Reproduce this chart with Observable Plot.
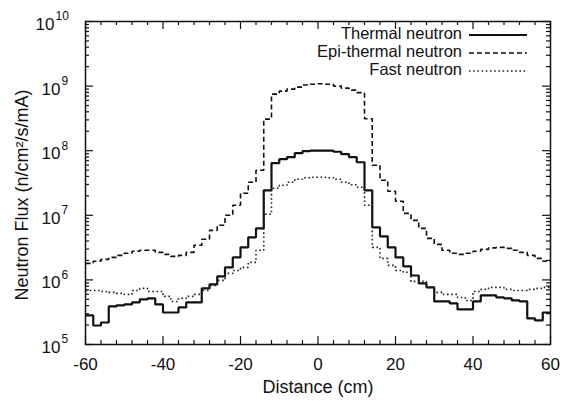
<!DOCTYPE html>
<html><head><meta charset="utf-8">
<script src="https://cdn.jsdelivr.net/npm/d3@7"></script>
<script src="https://cdn.jsdelivr.net/npm/@observablehq/plot@0.6"></script>
<style>
body{margin:0;background:#fff;}
#wrap{position:relative;width:562px;height:405px;font-family:"Liberation Sans",Arial,sans-serif;}
#legend{position:absolute;left:0;top:0;pointer-events:none;}
</style></head><body><div id="wrap"></div>
<script>
// Bin left edges (cm), 2 cm bins
const binStart = [-60,-58,-56,-54,-52,-50,-48,-46,-44,-42,-40,-38,-36,-34,-32,-30,-28,-26,-24,-22,-20,-18,-16,-14,-12,-10,-8,-6,-4,-2,0,2,4,6,8,10,12,14,16,18,20,22,24,26,28,30,32,34,36,38,40,42,44,46,48,50,52,54,56,58];
const binEnd = 60;
const thermal = [2.82e5,1.97e5,2.19e5,3.88e5,4.03e5,4.17e5,4.48e5,4.99e5,5.17e5,4.17e5,
3.13e5,3.13e5,3.75e5,4.48e5,4.48e5,7.38e5,8.51e5,1.13e6,1.56e6,2.23e6,
3.19e6,4.56e6,6.28e6,2.44e7,6.40e7,7.38e7,7.93e7,9.14e7,9.82e7,1.0e8,
1.0e8,1.0e8,9.64e7,8.83e7,7.93e7,6.63e7,2.44e7,6.52e6,4.72e6,3.19e6,
2.23e6,1.62e6,1.17e6,8.83e5,7.65e5,4.64e5,4.64e5,4.32e5,3.49e5,3.49e5,
4.64e5,5.75e5,5.75e5,5.35e5,5.17e5,4.81e5,4.64e5,2.53e5,2.36e5,3.13e5];
const epithermal = [1.80e6,1.94e6,2.08e6,2.23e6,2.40e6,2.58e6,2.77e6,2.87e6,2.87e6,2.67e6,
2.48e6,2.31e6,2.40e6,2.67e6,3.43e6,4.25e6,5.85e6,7.00e6,1.0e7,1.43e7,
2.19e7,3.25e7,4.99e7,3.08e8,7.52e8,8.36e8,8.98e8,9.64e8,1.04e9,1.07e9,
1.09e9,1.07e9,1.0e9,9.31e8,8.67e8,7.93e8,3.13e8,5.96e7,3.49e7,2.36e7,
1.65e7,1.07e7,8.36e6,6.28e6,4.40e6,3.55e6,2.87e6,2.58e6,2.48e6,2.58e6,
2.77e6,2.97e6,3.13e6,3.19e6,3.08e6,2.87e6,2.67e6,2.40e6,2.15e6,1.94e6];
const fast = [6.87e5,6.87e5,6.63e5,6.40e5,6.18e5,5.96e5,6.87e5,7.38e5,6.63e5,6.63e5,
5.55e5,4.64e5,5.17e5,5.55e5,5.96e5,6.87e5,8.22e5,9.82e5,1.26e6,1.40e6,
1.56e6,1.87e6,2.87e6,1.04e7,2.62e7,2.92e7,3.25e7,3.61e7,3.81e7,3.88e7,
3.88e7,3.81e7,3.61e7,3.25e7,2.97e7,2.72e7,1.43e7,3.19e6,2.15e6,1.68e6,
1.40e6,1.31e6,9.48e5,9.48e5,7.65e5,6.40e5,5.96e5,5.96e5,5.35e5,4.81e5,
6.63e5,7.13e5,7.65e5,7.65e5,7.13e5,6.87e5,6.87e5,7.13e5,7.38e5,7.65e5];
const seriesNames = ["Thermal neutron","Epi-thermal neutron","Fast neutron"];

const xTickLabels = [-60,-40,-20,0,20,40,60];
const xMinorTicks = [-56,-52,-48,-44,-36,-32,-28,-24,-16,-12,-8,-4,4,8,12,16,24,28,32,36,44,48,52,56];
const yDecades = [1e5,1e6,1e7,1e8,1e9,1e10];
const yExponents = ["5","6","7","8","9","10"];
const yMinorTicks = [2e5,3e5,4e5,5e5,6e5,7e5,8e5,9e5,2e6,3e6,4e6,5e6,6e6,7e6,8e6,9e6,
2e7,3e7,4e7,5e7,6e7,7e7,8e7,9e7,2e8,3e8,4e8,5e8,6e8,7e8,8e8,9e8,2e9,3e9,4e9,5e9,6e9,7e9,8e9,9e9];
const xTitle = "Distance (cm)";
const yTitle = "Neutron Flux (n/cm\u00B2/s/mA)";

const styles = [
  {stroke:"#111", strokeWidth:2.2, dash:null},
  {stroke:"#111", strokeWidth:1.6, dash:"5,3"},
  {stroke:"#222", strokeWidth:1.6, dash:"1.6,2.6"}
];

function stepRows(vals, name){
  const rows = binStart.map((x,i)=>({x, y: vals[i], series: name}));
  rows.push({x: binEnd, y: vals[vals.length-1], series: name});
  return rows;
}
const allSeries = [thermal, epithermal, fast];

const W=562, H=405, mL=85, mR=12, mT=21, mB=61;
const innerW = W-mL-mR, innerH = H-mT-mB;
const font = "Liberation Sans, Arial, sans-serif";
const majorLen = 8, minorLen = 4;

const marks = [];
allSeries.forEach((vals,i)=>{
  marks.push(Plot.line(stepRows(vals, seriesNames[i]), {x:"x", y:"y", curve:"step-after",
    stroke: styles[i].stroke, strokeWidth: styles[i].strokeWidth, strokeDasharray: styles[i].dash,
    strokeLinejoin:"miter", strokeLinecap:"butt"}));
});
// ticks (inside, mirrored)
marks.push(Plot.tickX(xTickLabels, {x:d=>d, insetTop: innerH-majorLen, stroke:"#111", strokeWidth:1.2}));
marks.push(Plot.tickX(xTickLabels, {x:d=>d, insetBottom: innerH-majorLen, stroke:"#111", strokeWidth:1.2}));
marks.push(Plot.tickX(xMinorTicks, {x:d=>d, insetTop: innerH-minorLen, stroke:"#111", strokeWidth:1.2}));
marks.push(Plot.tickX(xMinorTicks, {x:d=>d, insetBottom: innerH-minorLen, stroke:"#111", strokeWidth:1.2}));
marks.push(Plot.tickY(yDecades, {y:d=>d, insetRight: innerW-majorLen, stroke:"#111", strokeWidth:1.2}));
marks.push(Plot.tickY(yDecades, {y:d=>d, insetLeft: innerW-majorLen, stroke:"#111", strokeWidth:1.2}));
marks.push(Plot.tickY(yMinorTicks, {y:d=>d, insetRight: innerW-minorLen, stroke:"#111", strokeWidth:1.2}));
marks.push(Plot.tickY(yMinorTicks, {y:d=>d, insetLeft: innerW-minorLen, stroke:"#111", strokeWidth:1.2}));
marks.push(Plot.frame({stroke:"#111", strokeWidth:1.5}));
// x tick labels
marks.push(Plot.text(xTickLabels, {x:d=>d, frameAnchor:"bottom", dy:20, text:d=>String(d),
  fontSize:17, fill:"#111", lineAnchor:"middle", fontFamily:font}));
// y tick labels: base "10" + exponent
const oneDigit = yDecades.filter((d,i)=>yExponents[i].length===1);
const twoDigit = yDecades.filter((d,i)=>yExponents[i].length===2);
marks.push(Plot.text(oneDigit, {y:d=>d, frameAnchor:"left", dx:-25, dy:3, text:()=> "10", textAnchor:"end",
  fontSize:17, fill:"#111", lineAnchor:"middle", fontFamily:font}));
marks.push(Plot.text(oneDigit, {y:d=>d, frameAnchor:"left", dx:-24, dy:-5, text:d=>yExponents[yDecades.indexOf(d)], textAnchor:"start",
  fontSize:12, fill:"#111", lineAnchor:"middle", fontFamily:font}));
marks.push(Plot.text(twoDigit, {y:d=>d, frameAnchor:"left", dx:-31, dy:3, text:()=> "10", textAnchor:"end",
  fontSize:17, fill:"#111", lineAnchor:"middle", fontFamily:font}));
marks.push(Plot.text(twoDigit, {y:d=>d, frameAnchor:"left", dx:-30, dy:-5, text:d=>yExponents[yDecades.indexOf(d)], textAnchor:"start",
  fontSize:12, fill:"#111", lineAnchor:"middle", fontFamily:font}));
// axis titles
marks.push(Plot.text([xTitle], {frameAnchor:"bottom", dy:43, text:d=>d, fontSize:18, fill:"#111", lineAnchor:"middle", fontFamily:font}));
marks.push(Plot.text([yTitle], {frameAnchor:"left", dx:-63, dy:12, rotate:-90, text:d=>d, textAnchor:"middle", fontSize:18, fill:"#111", lineAnchor:"middle", fontFamily:font}));

const chart = Plot.plot({
  width:W, height:H, marginLeft:mL, marginRight:mR, marginTop:mT, marginBottom:mB,
  style:{background:"#fff", fontFamily:font},
  x:{domain:[-60,60], axis:null},
  y:{type:"log", domain:[1e5,1e10], axis:null},
  marks
});
const wrap = document.getElementById("wrap");
wrap.appendChild(chart);

// legend overlay
const leg = d3.select(wrap).append("svg").attr("id","legend").attr("width",W).attr("height",H);
const rowsY = [35,53,71];
seriesNames.forEach((name,i)=>{
  leg.append("text").attr("x",462).attr("y",rowsY[i]).attr("text-anchor","end").attr("dominant-baseline","middle")
    .attr("font-family",font).attr("font-size",16.5).attr("fill","#111").text(name);
  leg.append("line").attr("x1",469).attr("x2",527).attr("y1",rowsY[i]).attr("y2",rowsY[i])
    .attr("stroke",styles[i].stroke).attr("stroke-width",styles[i].strokeWidth)
    .attr("stroke-dasharray",styles[i].dash);
});
</script></body></html>
